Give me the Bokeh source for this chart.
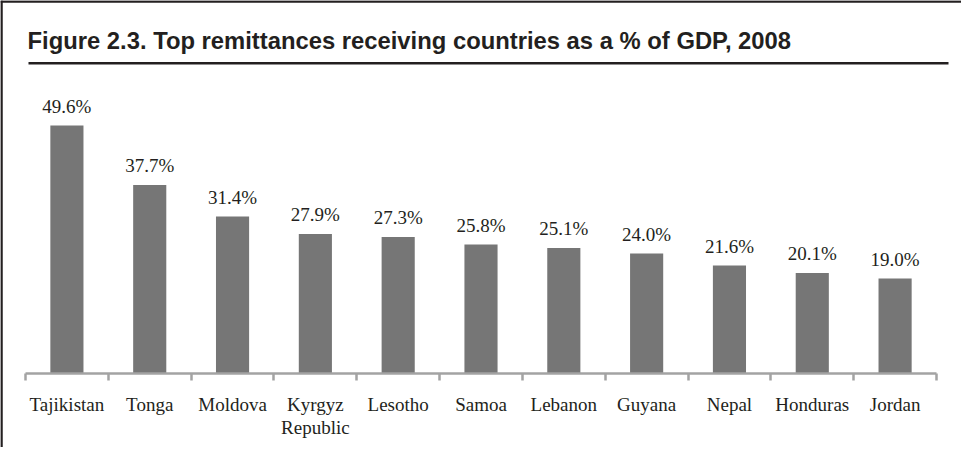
from bokeh.plotting import figure
from bokeh.models import (ColumnDataSource, FactorRange, Range1d, LinearAxis,
                          FixedTicker, Label)
from bokeh.embed import file_html
from bokeh.resources import INLINE
from bokeh.core.properties import value

# ---------------- data ----------------
countries = ["Tajikistan", "Tonga", "Moldova", "Kyrgyz Republic", "Lesotho", "Samoa",
             "Lebanon", "Guyana", "Nepal", "Honduras", "Jordan"]
tick_labels = ["Tajikistan", "Tonga", "Moldova", "Kyrgyz\nRepublic", "Lesotho", "Samoa",
               "Lebanon", "Guyana", "Nepal", "Honduras", "Jordan"]
shares = [49.6, 37.7, 31.4, 27.9, 27.3, 25.8, 25.1, 24.0, 21.6, 20.1, 19.0]
value_labels = ["49.6%", "37.7%", "31.4%", "27.9%", "27.3%", "25.8%", "25.1%",
                "24.0%", "21.6%", "20.1%", "19.0%"]
title_text = "Figure 2.3. Top remittances receiving countries as a % of GDP, 2008"

# ---------------- geometry (canvas pixels) ----------------
W, H = 961, 447
CAT_L, CAT_R = 25, 936        # left / right edge of the category band
AXIS_Y = 373                  # canvas y of the zero line
PX_PER_UNIT = 5.0
n = len(countries)
cat_w = (CAT_R - CAT_L) / n
pad = CAT_L / cat_w

y_start = -(H - AXIS_Y) / PX_PER_UNIT
y_end = AXIS_Y / PX_PER_UNIT


def xn(cx):
    # canvas x -> synthetic categorical coordinate
    return (cx - CAT_L) / cat_w


def yd(cy):
    return (AXIS_Y - cy) / PX_PER_UNIT


INK = "#231f20"
AXIS_GRAY = "#a3a3a3"
BAR_GRAY = "#767676"

p = figure(width=W, height=H,
           x_range=FactorRange(factors=countries, range_padding=pad, range_padding_units="absolute"),
           y_range=Range1d(y_start, y_end),
           output_backend="svg", toolbar_location=None, tools="",
           x_axis_location=None, y_axis_location=None, min_border=0)
p.grid.visible = False
p.outline_line_color = None
p.background_fill_color = "white"
p.border_fill_color = "white"

src = ColumnDataSource(dict(country=countries, share=shares, label=value_labels,
                            tick=tick_labels, zero=[0] * n))

p.vbar(x="country", top="share", bottom=0, width=0.4, source=src,
       fill_color=BAR_GRAY, line_color=None)

# value labels above bars
p.text(x="country", y="share", text="label", source=src,
       text_font=value("Liberation Serif"), text_font_size="19px",
       text_align="center", text_baseline="alphabetic", y_offset=-19.5,
       text_color=INK)

# axis line with ticks at category boundaries
tick_axis = LinearAxis(ticker=FixedTicker(ticks=list(range(n + 1))),
                       fixed_location=0, bounds=(0, n),
                       axis_line_color=AXIS_GRAY, axis_line_width=2.5,
                       major_tick_line_color=AXIS_GRAY, major_tick_line_width=2.5,
                       major_tick_in=0, major_tick_out=7,
                       minor_tick_line_color=None,
                       major_label_overrides={i: "" for i in range(n + 1)},
                       major_label_text_color=None)
p.add_layout(tick_axis, "below")

# category labels (two-line label for Kyrgyz Republic)
p.text(x="country", y="zero", text="tick", source=src,
       text_font=value("Liberation Serif"), text_font_size="19px",
       text_align="center", text_baseline="top", y_offset=20,
       text_line_height=1.13, text_color=INK)

# title
p.add_layout(Label(x=xn(27), y=yd(40), text=title_text,
                   text_font="Liberation Sans", text_font_style="bold",
                   text_font_size="23.8px", text_color=INK,
                   text_baseline="alphabetic", text_align="left"))

# rule under the title and the box edges
p.segment(x0=[xn(28), xn(0), xn(1)], y0=[yd(62.7), yd(1), yd(0)],
          x1=[xn(948), xn(W), xn(1)], y1=[yd(62.7), yd(1), yd(H)],
          line_color=INK, line_width=2.5)

open("out.html", "w").write(file_html(p, INLINE))
